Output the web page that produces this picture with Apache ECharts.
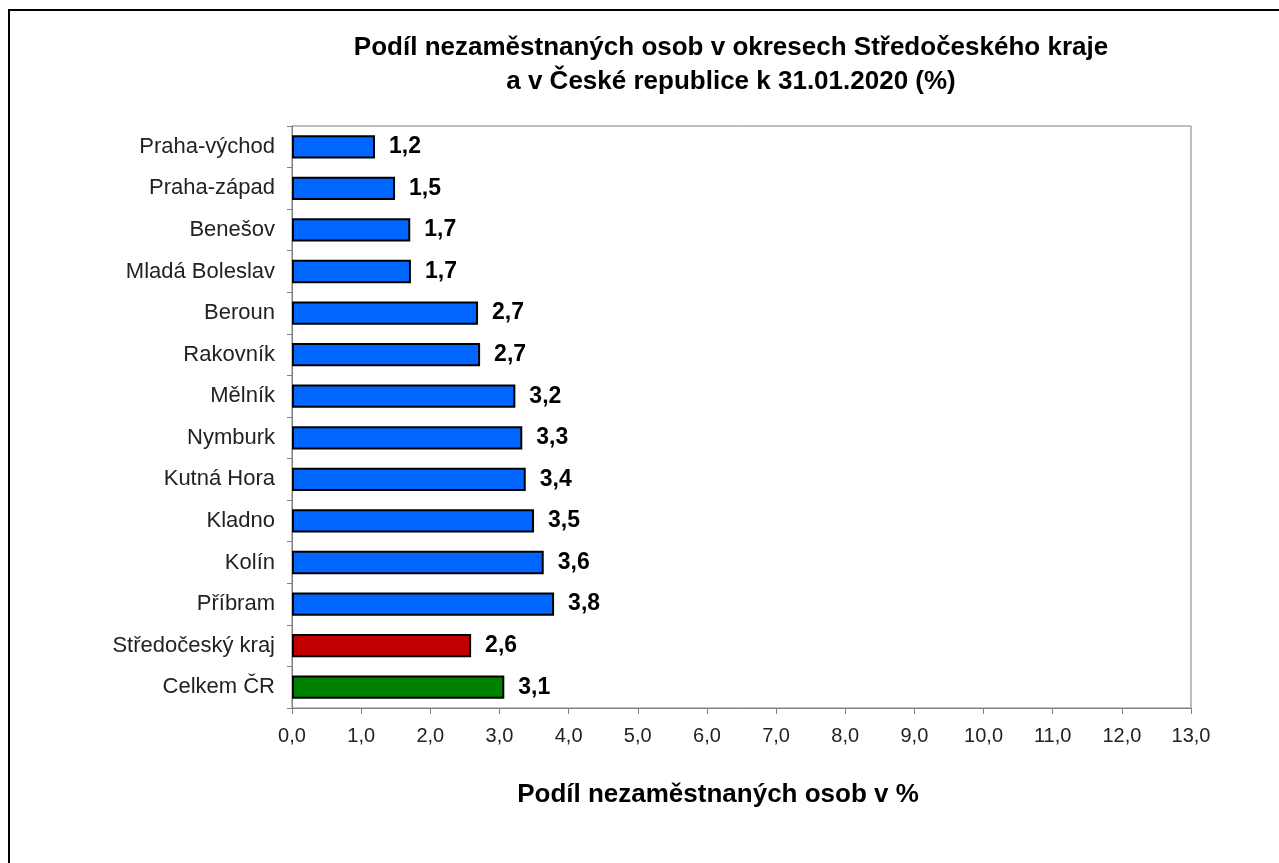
<!DOCTYPE html>
<html>
<head>
<meta charset="utf-8">
<script src="https://cdn.jsdelivr.net/npm/echarts@6/dist/echarts.min.js"></script>
<style>
  html, body { margin: 0; padding: 0; background: #fff; }
  #chart { width: 1279px; height: 863px; }
</style>
</head>
<body>
<div id="chart"></div>
<script>
// okresy, kraj a celkem CR
var districts = ['Praha-východ', 'Praha-západ', 'Benešov', 'Mladá Boleslav', 'Beroun', 'Rakovník',
  'Mělník', 'Nymburk', 'Kutná Hora', 'Kladno', 'Kolín', 'Příbram', 'Středočeský kraj', 'Celkem ČR']
var shares = [1.20, 1.49, 1.71, 1.72, 2.69, 2.72, 3.23, 3.33, 3.38, 3.50, 3.64, 3.79, 2.59, 3.07]
var barColors = ['#0066ff', '#0066ff', '#0066ff', '#0066ff', '#0066ff', '#0066ff', '#0066ff',
  '#0066ff', '#0066ff', '#0066ff', '#0066ff', '#0066ff', '#c00000', '#008000']
var xTicks = [0, 13, 1]  // min, max, interval

var fmt = function (v) {
  return Number(v).toFixed(1).replace('.', ',')
}

var chart = echarts.init(document.getElementById('chart'))
chart.setOption({
  animation: false,
  textStyle: { fontFamily: 'Liberation Sans, Arial, sans-serif' },
  title: [{
    text: 'Podíl nezaměstnaných osob v okresech Středočeského kraje\na v České republice k 31.01.2020 (%)',
    left: 726,
    top: 26,
    textAlign: 'center',
    textStyle: {
      fontSize: 26,
      fontWeight: 'bold',
      color: '#000',
      lineHeight: 34
    }
  }, {
    // popis osy x
    text: 'Podíl nezaměstnaných osob v %',
    left: 713,
    top: 777,
    textAlign: 'center',
    textStyle: { fontSize: 26, fontWeight: 'bold', color: '#000' }
  }],
  graphic: [{
    type: 'rect',
    shape: { x: 9, y: 10, width: 1400, height: 1000 },
    style: { fill: 'none', stroke: '#000', lineWidth: 2 },
    silent: true
  }],
  grid: {
    left: 292,
    top: 126,
    right: 88,
    bottom: 155,
    show: true,
    borderColor: '#808080',
    borderWidth: 1
  },
  xAxis: {
    type: 'value',
    min: xTicks[0],
    max: xTicks[1],
    interval: xTicks[2],
    axisLine: { show: true, lineStyle: { color: '#808080', width: 1 } },
    axisTick: { show: true, length: 6, lineStyle: { color: '#808080' } },
    axisLabel: { fontSize: 20, color: '#222', margin: 18, formatter: fmt },
    splitLine: { show: false }
  },
  yAxis: {
    type: 'category',
    inverse: true,
    data: districts,
    axisLine: { show: true, lineStyle: { color: '#808080', width: 1 } },
    axisTick: { show: true, length: 5, lineStyle: { color: '#808080' } },
    axisLabel: { fontSize: 22, color: '#222', margin: 17 }
  },
  series: [{
    type: 'bar',
    barCategoryGap: '44%',
    data: shares.map(function (v, i) {
      return { value: v, itemStyle: { color: barColors[i] } }
    }),
    itemStyle: { borderColor: '#000', borderWidth: 2 },
    label: {
      show: true,
      position: 'right',
      distance: 14,
      fontSize: 23,
      fontWeight: 'bold',
      color: '#000',
      formatter: function (p) { return fmt(p.value) }
    }
  }]
})
</script>
</body>
</html>
